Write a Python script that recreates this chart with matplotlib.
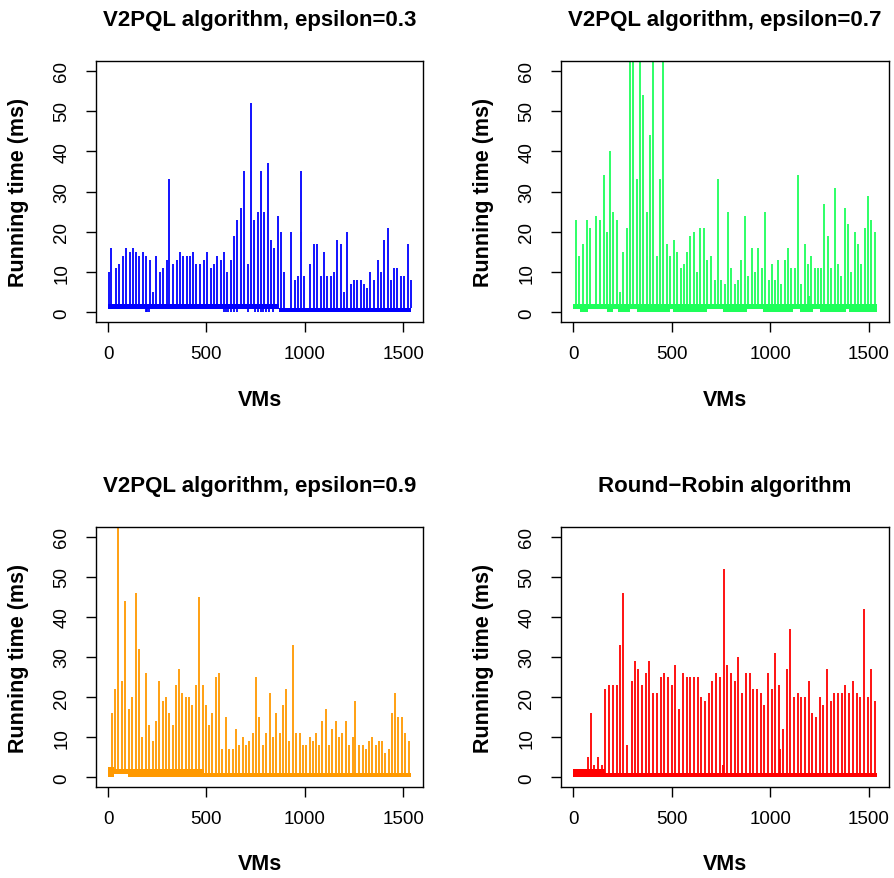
import numpy as np
import matplotlib
matplotlib.use('Agg')
import matplotlib.pyplot as plt

plt.rcParams['font.family'] = ['Liberation Sans', 'DejaVu Sans']

# spike positions (VM index) and running time (ms)
x03 = [2,17,42,57,74,93,110,125,144,159,177,194,211,228,245,262,280,297,312,331,
       348,365,382,399,416,432,449,468,488,503,522,539,556,574,589,606,625,640,657,676,
       691,709,728,742,760,777,792,812,828,845,863,880,897,931,948,964,981,998,1029,1046,
       1062,1081,1096,1115,1132,1149,1164,1182,1199,1216,1235,1250,1267,1284,1301,1319,1334,1351,1370,1387,
       1404,1421,1437,1454,1471,1488,1507,1524,1540]
y03 = [10,16,11,12,14,16,15,16,15,14,15,14,13,5,14,10,11,13,33,12,
       13,15,14,14,14,15,12,12,13,15,11,12,14,13,15,10,13,19,23,26,
       35,12,52,23,25,35,25,37,18,16,24,20,10,20,8,9,35,9,12,17,
       17,9,15,9,9,10,18,17,5,20,7,8,8,8,7,6,10,8,13,10,
       18,21,8,11,11,9,9,17,8]

x07 = [14,32,49,69,84,118,135,154,171,186,204,221,236,255,272,287,306,323,339,356,
       373,392,407,424,443,458,475,493,510,527,546,561,578,595,611,630,645,662,681,701,
       718,735,752,769,785,802,819,838,853,870,888,905,922,939,956,975,991,1007,1024,1040,
       1056,1073,1088,1106,1123,1140,1157,1174,1191,1198,1208,1225,1241,1258,1274,1290,1309,1326,1343,1360,
       1377,1393,1409,1427,1442,1459,1478,1493,1512,1529]
y07 = [23,14,17,23,21,24,23,34,20,40,25,23,5,15,21,80,95,33,90,54,
       25,44,75,14,33,85,17,14,18,15,11,12,15,19,20,10,21,21,13,14,
       8,33,8,7,25,11,7,8,13,24,9,16,10,16,11,25,8,12,8,13,
       7,13,16,11,11,34,7,17,12,4,14,11,11,11,27,19,11,31,12,9,
       26,22,10,20,17,12,21,29,23,20]

x09 = [19,34,51,73,88,106,123,140,157,174,191,208,226,242,260,277,294,311,328,345,
       361,378,395,412,429,446,463,480,497,513,530,547,564,581,600,617,633,650,667,684,
       701,718,736,753,769,787,804,821,838,855,872,888,905,922,939,956,975,990,1007,1025,
       1042,1057,1074,1089,1106,1123,1140,1157,1174,1191,1208,1225,1243,1258,1275,1294,1311,1328,1344,1361,
       1377,1393,1409,1426,1442,1459,1476,1493,1510,1529]
y09 = [16,22,70,24,44,17,20,46,32,10,26,13,9,14,24,19,20,16,13,23,
       27,21,20,20,18,23,45,23,18,13,16,25,26,7,15,7,7,12,8,10,
       8,9,11,25,15,8,11,21,10,16,11,18,22,9,33,11,11,8,8,10,
       9,11,8,14,17,8,12,14,10,11,14,8,10,19,8,8,7,9,10,8,
       9,9,6,7,16,21,15,15,11,9]

xrr = [73,93,105,128,145,164,182,201,221,238,255,275,296,312,331,351,368,387,407,427,
       444,463,483,502,519,537,557,576,595,613,632,650,671,687,706,726,745,760,765,782,
       802,821,838,858,877,895,914,932,953,970,988,1010,1025,1046,1051,1066,1083,1101,1120,1138,
       1157,1176,1194,1213,1231,1250,1268,1289,1306,1324,1343,1361,1380,1400,1417,1437,1456,1473,1493,1512,
       1529]
yrr = [5,16,3,5,3,22,23,23,23,33,46,8,24,29,27,23,26,29,21,21,
       25,26,25,23,28,17,26,25,25,25,25,20,19,21,24,26,25,3,52,28,
       26,24,30,21,26,26,22,22,21,18,26,22,31,23,7,12,27,37,20,21,
       20,20,24,16,15,20,18,27,19,21,21,21,23,21,24,21,20,42,20,27,
       19]

# dense low-level part of each series: (from, to, low, high)
base03 = [(1, 870, 0.8, 2.0), (870, 1542, 0.0, 1.0)]
base07 = [(1, 1542, 0.8, 2.0), (34, 75, 0, 0.8), (170, 200, 0, 0.8), (228, 287, 0, 0.8),
          (322, 490, 0, 0.8), (505, 677, 0, 0.8), (758, 880, 0, 0.8), (961, 1113, 0, 0.8),
          (1148, 1215, 0, 0.8), (1250, 1385, 0, 0.8), (1400, 1542, 0, 0.8)]
base09 = [(1, 30, 0.0, 2.5), (1, 490, 0.8, 2.0), (100, 490, 0.0, 0.8), (490, 1542, 0.0, 1.2)]
baserr = [(1, 160, 0.0, 2.0), (160, 1542, 0.0, 1.0)]
dips03 = [192, 200, 207, 590, 600, 612, 625, 640, 655, 713, 745, 760, 775, 790, 805, 820, 840]

titles = ['V2PQL algorithm, epsilon=0.3', 'V2PQL algorithm, epsilon=0.7',
          'V2PQL algorithm, epsilon=0.9', 'Round\u2212Robin algorithm']
colors = ['#0000ff', '#1eff5a', '#ff9900', '#ff0000']
xs = [x03, x07, x09, xrr]
ys = [y03, y07, y09, yrr]
bases = [base03, base07, base09, baserr]
dips = [dips03, [], [], []]

rects = [[0.1074, 0.6325, 0.3658, 0.2969], [0.6275, 0.6325, 0.3669, 0.2969],
         [0.1074, 0.1035, 0.3658, 0.2958], [0.6275, 0.1035, 0.3669, 0.2958]]

fig = plt.figure(figsize=(8.94, 8.79), dpi=100)

for i in range(4):
    ax = fig.add_axes(rects[i])
    c = colors[i]
    for (a, b, lo, hi) in bases[i]:
        ax.fill_between([a, b], [lo, lo], [hi, hi], color=c, lw=0)
    if len(dips[i]) > 0:
        ax.vlines(dips[i], 0, 1, color=c, lw=1.3)
    ax.vlines(xs[i], 1, ys[i], color=c, lw=1.3)

    ax.set_xlim(-61.6, 1601.6)
    ax.set_ylim(-2.4, 62.4)
    ax.set_xticks([0, 500, 1000, 1500])
    ax.set_yticks([0, 10, 20, 30, 40, 50, 60])
    ax.tick_params(direction='out', length=7.5, width=1.0, labelsize=13.5)
    ax.tick_params(axis='x', pad=9)
    ax.tick_params(axis='y', pad=11, labelrotation=90)
    for t in ax.get_yticklabels():
        t.set_va('center')
    for s in ax.spines.values():
        s.set_linewidth(1.0)

    ax.set_title(titles[i], fontsize=16, fontweight='bold', pad=26)
    ax.set_xlabel('VMs', fontsize=15.5, fontweight='bold')
    ax.set_ylabel('Running time (ms)', fontsize=15.5, fontweight='bold')
    ax.xaxis.set_label_coords(0.5, -0.255)
    ax.yaxis.set_label_coords(-0.205, 0.5)

fig.savefig('out.png', dpi=100)
